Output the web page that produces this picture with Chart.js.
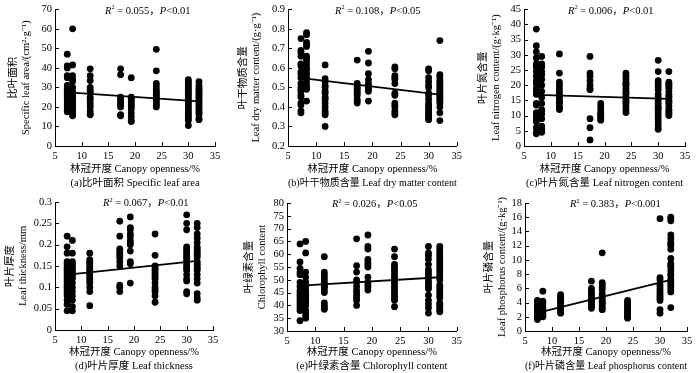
<!DOCTYPE html>
<html><head><meta charset="utf-8">
<script src="https://cdn.jsdelivr.net/npm/chart.js@4.4.0/dist/chart.umd.min.js"></script>
<style>
html,body{margin:0;padding:0;background:#fff}
body{width:700px;height:373px;position:relative;overflow:hidden}
.p{position:absolute}
canvas{display:block}
</style></head><body>
<div class="p" style="left:0;top:0"><canvas id="ca" width="232" height="190"></canvas></div>
<div class="p" style="left:232px;top:0"><canvas id="cb" width="234" height="190"></canvas></div>
<div class="p" style="left:466px;top:0"><canvas id="cc" width="234" height="190"></canvas></div>
<div class="p" style="left:0;top:187px"><canvas id="cd" width="232" height="186"></canvas></div>
<div class="p" style="left:232px;top:187px"><canvas id="ce" width="234" height="186"></canvas></div>
<div class="p" style="left:466px;top:187px"><canvas id="cf" width="234" height="186"></canvas></div>
<script>
// ---------- DATA ----------
const openness = [7.3, 8.3, 11.6, 17.3, 19.3, 24, 30, 32];
const trendX = [7.5, 32];

const slaValues = [
  [47, 41, 40, 36, 35, 31, 29, 28, 27, 26, 25, 24, 23, 22, 21, 20, 19, 18, 17.5],
  [60, 41.5, 36, 34, 33, 30, 28, 27, 26, 25, 24, 23, 22, 21, 20, 19, 18, 17, 16, 15.5],
  [39.5, 36, 33.5, 30, 28.5, 27.5, 25, 24, 22.5, 21, 20, 18, 16.5, 16],
  [39.5, 36.5, 25, 24, 23, 22, 21, 20, 16, 15.5],
  [35, 25, 24, 23, 22, 21, 20, 19, 17, 15, 13, 12.5],
  [49.5, 38.5, 32, 30.5, 29, 28, 27, 26, 25, 24, 23, 22, 21, 20],
  [34, 33, 32, 31, 30, 29, 28, 27, 26, 25, 24, 23, 22, 21, 20, 19, 18, 17, 16, 15, 14, 13, 10.5],
  [33, 31, 30, 29, 28, 27, 26, 25, 24, 23, 22, 21, 20, 19, 18, 17, 16, 14, 13.5]
];
const slaTrend = [27.5, 22.8];

const ldmcValues = [
  [0.75, 0.69, 0.68, 0.66, 0.62, 0.61, 0.58, 0.57, 0.55, 0.52, 0.5, 0.49, 0.48, 0.46, 0.45, 0.42, 0.41, 0.38, 0.37],
  [0.78, 0.77, 0.73, 0.72, 0.71, 0.66, 0.65, 0.64, 0.62, 0.6, 0.59, 0.57, 0.55, 0.53, 0.51, 0.5, 0.49, 0.43],
  [0.615, 0.545, 0.53, 0.51, 0.5, 0.48, 0.47, 0.45, 0.44, 0.42, 0.4, 0.38, 0.37, 0.36, 0.3],
  [0.64, 0.52, 0.51, 0.5, 0.49, 0.48, 0.47, 0.46, 0.44, 0.43, 0.42],
  [0.685, 0.625, 0.57, 0.54, 0.52, 0.51, 0.5, 0.49, 0.48, 0.43],
  [0.605, 0.595, 0.56, 0.55, 0.54, 0.52, 0.47, 0.46, 0.42, 0.41, 0.4, 0.38, 0.37, 0.36],
  [0.595, 0.585, 0.55, 0.53, 0.51, 0.5, 0.47, 0.46, 0.44, 0.42, 0.41, 0.4, 0.39, 0.38, 0.37, 0.36, 0.35, 0.34, 0.335],
  [0.74, 0.565, 0.555, 0.54, 0.53, 0.52, 0.51, 0.5, 0.49, 0.48, 0.47, 0.46, 0.45, 0.44, 0.43, 0.42, 0.4, 0.37, 0.33]
];
const ldmcTrend = [0.548, 0.463];

const lncValues = [
  [38.5, 33, 31, 29, 27, 26, 24.5, 23, 21.5, 20.5, 19, 18, 17, 14, 13.5, 11, 10, 9, 8, 6, 4.5, 4],
  [29.5, 27, 26, 24.5, 23.5, 22, 20, 18, 16, 14, 12, 11.5, 10.5, 9, 6.5, 5.5, 5, 4.5],
  [30.3, 24, 21, 20, 19, 18, 17, 16.5, 16, 15, 14.5, 14, 13, 12.5, 12],
  [29.5, 24, 23, 21.5, 20, 19, 18.5, 9, 6, 2],
  [14, 13, 12, 11, 10.5, 10, 9.5, 9, 8.5],
  [24, 23, 22, 21, 20.5, 20, 19, 18, 17.5, 17, 16, 15, 14.5, 14, 13, 12, 11],
  [28.2, 24.5, 21.5, 20.5, 19.5, 18.5, 17, 16, 15, 14, 13, 12.5, 12, 11, 10, 9, 8, 7, 6, 5.5],
  [24.5, 21, 20.5, 20, 19.5, 19, 18, 17, 16.5, 16, 15, 14.5, 14, 13, 12, 11.5, 11, 10.5, 10]
];
const lncTrend = [16.8, 15.5];

const ltValues = [
  [0.22, 0.195, 0.18, 0.16, 0.155, 0.15, 0.145, 0.14, 0.135, 0.13, 0.125, 0.12, 0.115, 0.11, 0.105, 0.1, 0.095, 0.09, 0.085, 0.08, 0.07, 0.06, 0.045],
  [0.21, 0.18, 0.16, 0.155, 0.15, 0.145, 0.14, 0.135, 0.13, 0.125, 0.12, 0.11, 0.1, 0.09, 0.08, 0.07, 0.055, 0.045],
  [0.18, 0.165, 0.16, 0.155, 0.15, 0.145, 0.14, 0.135, 0.13, 0.125, 0.12, 0.115, 0.11, 0.1, 0.09, 0.057],
  [0.255, 0.22, 0.19, 0.185, 0.18, 0.175, 0.17, 0.16, 0.15, 0.105, 0.1, 0.09],
  [0.265, 0.24, 0.235, 0.225, 0.22, 0.21, 0.205, 0.2, 0.185, 0.16, 0.155, 0.11],
  [0.225, 0.175, 0.15, 0.145, 0.14, 0.135, 0.13, 0.125, 0.12, 0.11, 0.1, 0.095, 0.09, 0.08, 0.065],
  [0.27, 0.25, 0.235, 0.195, 0.19, 0.185, 0.18, 0.175, 0.17, 0.165, 0.16, 0.155, 0.15, 0.145, 0.14, 0.13, 0.12, 0.115, 0.09, 0.085],
  [0.25, 0.24, 0.225, 0.215, 0.205, 0.195, 0.19, 0.185, 0.18, 0.175, 0.17, 0.16, 0.155, 0.15, 0.145, 0.14, 0.13, 0.12, 0.11, 0.085, 0.075, 0.07]
];
const ltTrend = [0.13, 0.162];

const chlValues = [
  [64, 57, 54.5, 53, 52, 49, 47.5, 46, 45, 44, 43, 42, 41, 40, 39, 38, 34],
  [65, 60.5, 53, 51, 49, 47.5, 46, 45, 44, 43, 42, 41, 40, 38, 37, 36, 35],
  [59, 53, 52, 51, 50, 49, 48, 47.5, 47, 46, 45, 41, 40, 39, 38.5],
  [66, 55.5, 53, 50, 49, 47.5, 46, 45, 44, 43, 42, 40],
  [67.5, 63, 62, 58, 57, 56, 55, 51, 49, 48, 47, 46],
  [62, 59, 56, 55, 54, 53, 52, 51, 50, 49, 48, 47, 46, 45, 44, 43, 42, 39.5],
  [63, 60.5, 59.5, 58, 56, 54, 53, 52, 51, 50, 49, 48, 47, 46.5, 44, 42, 40.5, 39, 37],
  [63, 62, 61, 60, 59, 58, 57, 56, 55, 54, 53, 52, 51, 50, 48, 47, 46, 45, 44, 43, 41, 40.5, 40, 39, 38, 37.5]
];
const chlTrend = [47.7, 51];

const lpcValues = [
  [4.3, 4, 3.6, 3.3, 3, 2.8, 2.6, 2.4, 2.2, 2, 1.8, 1.6],
  [5.6, 4.2, 4, 3.8, 3.5, 3.3, 3.1, 2.9, 2.7, 2.5, 2.3, 2.1, 2],
  [5.1, 4.9, 4.7, 4.5, 4.3, 4.1, 3.9, 3.7, 3.5, 3.3, 3.1, 2.9, 2.7, 2.5],
  [7, 6, 5.6, 5.3, 5, 4.7, 4.4, 4.2, 4, 3.7, 3.5, 3.2],
  [11, 6.8, 6.5, 6.2, 5.8, 5.2, 4.8, 4.5, 4.2, 4, 3.8, 3.5, 3.2, 3],
  [4.3, 4.1, 3.9, 3.7, 3.5, 3.3, 3.1, 2.9, 2.7, 2.5, 2.3, 2.1, 1.9, 1.8],
  [15.8, 7.5, 7.2, 6.5, 6.2, 5.8, 5.5, 5.2, 4.9, 4.6, 4.3, 3, 2.5],
  [16, 15.8, 15.5, 13.5, 13, 12.5, 12.2, 12, 11.5, 10.2, 9.5, 9.2, 9, 8.5, 8, 7.8, 7.3, 7, 6.8, 6.5, 6.2, 5.8, 5.5, 3.3]
];
const lpcTrend = [2.6, 7.2];

const xTitle = '林冠开度 Canopy openness/%';

// ---------- RENDER ----------
const SERIF = "'Liberation Serif','Times New Roman','Noto Sans CJK SC',serif";
const FS = 10.5;

const panels = [
  {id:'ca', vals:slaValues, trend:slaTrend, yMin:0, yMax:70, step:10,
   yTitle:['比叶面积','Specific leaf area/(cm²·g⁻¹)'], caption:'(a)比叶面积 Specific leaf area',
   r2:'0.055', p:'<0.01', lay:{yW:55, top:7, right:17, xH:44, ytp:6, ann:50}},
  {id:'cb', vals:ldmcValues, trend:ldmcTrend, yMin:0.2, yMax:0.9, step:0.1,
   yTitle:['叶干物质含量','Leaf dry matter content/(g·g⁻¹)'], caption:'(b)叶干物质含量 Leaf dry matter content',
   r2:'0.108', p:'<0.05', lay:{yW:56, top:7, right:9, xH:44, ytp:4, ann:47}},
  {id:'cc', vals:lncValues, trend:lncTrend, yMin:0, yMax:45, step:5,
   yTitle:['叶片氮含量','Leaf nitrogen content/(g·kg⁻¹)'], caption:'(c)叶片氮含量 Leaf nitrogen content',
   r2:'0.006', p:'<0.01', lay:{yW:58, top:7, right:15, xH:44, ytp:10, ann:44}},
  {id:'cd', vals:ltValues, trend:ltTrend, yMin:0, yMax:0.3, step:0.05,
   yTitle:['叶片厚度','Leaf thickness/mm'], caption:'(d)叶片厚度 Leaf thickness',
   r2:'0.067', p:'<0.01', lay:{yW:55, top:15, right:19, xH:43, ytp:3, ann:48}},
  {id:'ce', vals:chlValues, trend:chlTrend, yMin:30, yMax:80, step:5,
   yTitle:['叶绿素含量','Chlorophyll content'], caption:'(e)叶绿素含量 Chlorophyll content',
   r2:'0.026', p:'<0.05', lay:{yW:55, top:16, right:9, xH:42, ytp:10, ann:45}},
  {id:'cf', vals:lpcValues, trend:lpcTrend, yMin:0, yMax:18, step:2,
   yTitle:['叶片磷含量','Leaf phosphorus content/(g·kg⁻¹)'], caption:'(f)叶片磷含量 Leaf phosphorus content',
   r2:'0.383', p:'<0.001', lay:{yW:59, top:16, right:13, xH:42, ytp:16, ann:45}}
];

const decorPlugin = {
  id:'decor',
  afterDraw(chart, args, opts){
    const ctx = chart.ctx, xs = chart.scales.x, ys = chart.scales.y, a = chart.chartArea;
    ctx.save();
    ctx.strokeStyle = '#000'; ctx.lineWidth = 1;
    ctx.beginPath();
    xs.ticks.forEach(t => { const px = Math.round(xs.getPixelForValue(t.value)) + 0.5; ctx.moveTo(px, a.bottom); ctx.lineTo(px, a.bottom - 4); });
    ys.ticks.forEach(t => { const py = Math.round(ys.getPixelForValue(t.value)) + 0.5; ctx.moveTo(a.left, py); ctx.lineTo(a.left + 4, py); });
    ctx.stroke();
    // R² annotation
    let x = a.left + opts.ann;
    const y = a.top + 1.5;
    ctx.fillStyle = '#000';
    ctx.textBaseline = 'middle';
    ctx.textAlign = 'left';
    const seg = (txt, font, dy) => { ctx.font = font; ctx.fillText(txt, x, y + (dy||0)); x += ctx.measureText(txt).width; };
    seg('R', 'italic ' + FS + 'px ' + SERIF);
    seg('2', (FS*0.6).toFixed(1) + 'px ' + SERIF, -3);
    seg(' = ' + opts.r2 + '，', FS + 'px ' + SERIF);
    seg('P', 'italic ' + FS + 'px ' + SERIF);
    seg(opts.p, FS + 'px ' + SERIF);
    ctx.restore();
  }
};

const fmt = v => String(Math.round(v * 1000) / 1000);

panels.forEach(pn => {
  const pts = [];
  pn.vals.forEach((col, i) => col.forEach(v => pts.push({x: openness[i], y: v})));
  const L = pn.lay;
  new Chart(document.getElementById(pn.id), {
    type: 'scatter',
    data: {
      datasets: [
        {type:'scatter', data: pts, backgroundColor:'#000', borderWidth:0, pointRadius:3.4, pointHoverRadius:3.4, order:2},
        {type:'line', data: trendX.map((x,i)=>({x:x, y:pn.trend[i]})), borderColor:'#000', borderWidth:1.8, pointRadius:0, fill:false, order:1}
      ]
    },
    options: {
      responsive:false, animation:false, devicePixelRatio:1,
      layout:{padding:{left:0, top:L.top, right:L.right, bottom:0}},
      plugins:{legend:{display:false}, tooltip:{enabled:false}, decor:{r2:pn.r2, p:pn.p, ann:L.ann}},
      scales:{
        x:{type:'linear', min:5, max:35,
           ticks:{stepSize:5, autoSkip:false, color:'#000', font:{family:SERIF, size:FS}, padding:4, maxRotation:0},
           grid:{display:false, drawTicks:false},
           border:{display:true, color:'#000', width:1},
           title:{display:true, text:[xTitle, pn.caption], color:'#000', font:{family:SERIF, size:FS, lineHeight:1.3}, padding:{top:0, bottom:0}},
           afterFit:s=>{ s.height = L.xH; }},
        y:{type:'linear', min:pn.yMin, max:pn.yMax,
           ticks:{stepSize:pn.step, autoSkip:false, color:'#000', font:{family:SERIF, size:FS}, padding:3, callback:fmt},
           grid:{display:false, drawTicks:false},
           border:{display:true, color:'#000', width:1},
           title:{display:true, text:pn.yTitle, color:'#000', font:{family:SERIF, size:FS, lineHeight:1.3}, padding:{top:L.ytp, bottom:0}},
           afterFit:s=>{ s.width = L.yW; }}
      }
    },
    plugins:[decorPlugin]
  });
});
</script>
</body></html>
